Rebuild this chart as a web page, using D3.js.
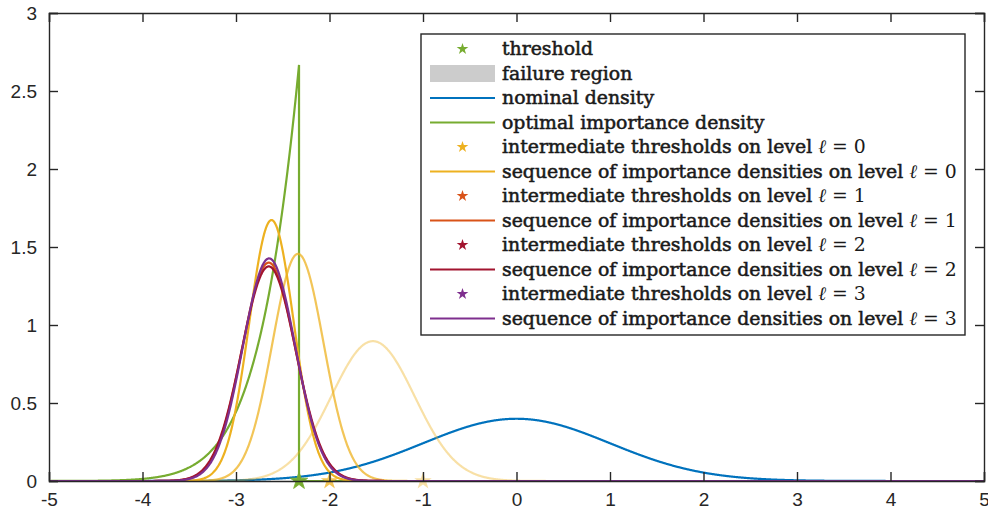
<!DOCTYPE html>
<html>
<head>
<meta charset="utf-8">
<script src="https://cdn.jsdelivr.net/npm/d3@7"></script>
<style>
  body { margin: 0; background: #fff; }
  svg { display: block; }
  .tick text { font-family: 'Liberation Sans', Arial, sans-serif; font-size: 19px; fill: #262626; }
</style>
</head>
<body>
<div id="chart"></div>
<script>
// values
const xTicks = [-5, -4, -3, -2, -1, 0, 1, 2, 3, 4, 5];
const yTicks = [0, 0.5, 1, 1.5, 2, 2.5, 3];

const threshold = -2.326;      // final threshold (Pf = 0.01)
const failureProb = 0.01;

// nominal density N(0,1)
const nominalMean = 0;
const nominalSd = 1;

// level 0: intermediate thresholds and fitted gaussian densities
const level0Thresholds = [-1, -2];
const level0ThresholdOpacity = [0.4, 0.75];
const level0Means = [-1.535, -2.337, -2.62];
const level0Sds = [0.445, 0.274, 0.2385];
const level0Opacity = [0.4, 0.75, 1];

// levels 1..3: final densities
const levelNames = [1, 2, 3];
const levelMeans = [-2.65, -2.65, -2.646];
const levelSds = [0.285, 0.290, 0.2796];

const COLORS = {
  blue: '#0072BD',
  orange: '#D95319',
  yellow: '#EDB120',
  purple: '#7E2F8E',
  green: '#77AC30',
  red: '#A2142F'
};
const levelColors = [COLORS.orange, COLORS.red, COLORS.purple];

const legendLabels = [
  'threshold',
  'failure region',
  'nominal density',
  'optimal importance density',
  'intermediate thresholds on level ',
  'sequence of importance densities on level ',
  'intermediate thresholds on level ',
  'sequence of importance densities on level ',
  'intermediate thresholds on level ',
  'sequence of importance densities on level ',
  'intermediate thresholds on level ',
  'sequence of importance densities on level '
];

const width = 988;
const height = 515;
const margin = { top: 13, right: 4, bottom: 34, left: 49 };

const svg = d3.select('#chart')
  .append('svg')
  .attr('width', width)
  .attr('height', height);

const x = d3.scaleLinear().domain([-5, 5]).range([margin.left, width - margin.right]);
const y = d3.scaleLinear().domain([0, 3]).range([height - margin.bottom, margin.top]);

function normalPdf(v, mu, sd) {
  const z = (v - mu) / sd;
  return Math.exp(-0.5 * z * z) / (sd * Math.sqrt(2 * Math.PI));
}

const grid = d3.range(-5, 5.0001, 0.005);
const line = d3.line().x(d => x(d[0])).y(d => y(d[1]));

function gaussianPoints(mu, sd) {
  return grid.map(v => [v, normalPdf(v, mu, sd)]);
}

const plot = svg.append('g');

// nominal density
plot.append('path')
  .attr('d', line(gaussianPoints(nominalMean, nominalSd)))
  .attr('fill', 'none')
  .attr('stroke', COLORS.blue)
  .attr('stroke-width', 2.2);

// optimal importance density (truncated nominal)
const optimalPts = grid.filter(v => v <= threshold).map(v => [v, normalPdf(v, 0, 1) / failureProb]);
optimalPts.push([threshold, normalPdf(threshold, 0, 1) / failureProb]);
optimalPts.push([threshold, 0]);
optimalPts.push([5, 0]);
plot.append('path')
  .attr('d', line(optimalPts))
  .attr('fill', 'none')
  .attr('stroke', COLORS.green)
  .attr('stroke-width', 2.2);

function starPath(size) {
  return d3.symbol().type(d3.symbolStar).size(size)();
}

// threshold star
plot.append('path')
  .attr('d', starPath(95))
  .attr('transform', `translate(${x(threshold)},${y(0)})`)
  .attr('fill', COLORS.green)
  .attr('stroke', COLORS.green)
  .attr('stroke-width', 0.8);

// level 0
level0Thresholds.forEach((t, i) => {
  plot.append('path')
    .attr('d', starPath(95))
    .attr('transform', `translate(${x(t)},${y(0)})`)
    .attr('fill', COLORS.yellow)
    .attr('fill-opacity', level0ThresholdOpacity[i])
    .attr('stroke', 'none');
});
level0Means.forEach((mu, i) => {
  plot.append('path')
    .attr('d', line(gaussianPoints(mu, level0Sds[i])))
    .attr('fill', 'none')
    .attr('stroke', COLORS.yellow)
    .attr('stroke-opacity', level0Opacity[i])
    .attr('stroke-width', 2.2);
});

// levels 1..3
levelNames.forEach((lvl, i) => {
  plot.append('path')
    .attr('d', line(gaussianPoints(levelMeans[i], levelSds[i])))
    .attr('fill', 'none')
    .attr('stroke', levelColors[i])
    .attr('stroke-width', 2.2);
});

// axes
const axisColor = '#262626';
const tickLen = 9;
const xAxis = svg.append('g')
  .attr('transform', `translate(0,${y(0)})`)
  .call(d3.axisBottom(x).tickValues(xTicks).tickSize(-tickLen).tickPadding(14).tickFormat(d => String(d)));
const xAxisTop = svg.append('g')
  .attr('transform', `translate(0,${y(3)})`)
  .call(d3.axisTop(x).tickValues(xTicks).tickSize(-tickLen).tickFormat(''));
const yAxis = svg.append('g')
  .attr('transform', `translate(${x(-5)},0)`)
  .call(d3.axisLeft(y).tickValues(yTicks).tickSize(-tickLen).tickPadding(12).tickFormat(d => String(d)));
const yAxisRight = svg.append('g')
  .attr('transform', `translate(${x(5)},0)`)
  .call(d3.axisRight(y).tickValues(yTicks).tickSize(-tickLen).tickFormat(''));

[xAxis, xAxisTop, yAxis, yAxisRight].forEach(a => {
  a.selectAll('.domain').attr('stroke', axisColor).attr('stroke-width', 1.4);
  a.selectAll('.tick line').attr('stroke', axisColor).attr('stroke-width', 1.4);
});
xAxis.selectAll('.tick text').attr('dy', '0.6em');
yAxis.selectAll('.tick text').attr('dy', '0.36em');

// legend
const legend = svg.append('g');
const lgX = 421, lgY = 34, lgW = 544, lgH = 301;
legend.append('rect')
  .attr('x', lgX).attr('y', lgY).attr('width', lgW).attr('height', lgH)
  .attr('fill', '#fff').attr('stroke', axisColor).attr('stroke-width', 1.4);

const rowH = 24.5;
const rowY0 = 49;
const sampleX0 = 430, sampleX1 = 495, textX = 502;

const legendItems = [
  { kind: 'star', color: COLORS.green },
  { kind: 'patch', color: '#cccccc' },
  { kind: 'line', color: COLORS.blue },
  { kind: 'line', color: COLORS.green },
  { kind: 'star', color: COLORS.yellow, level: 0 },
  { kind: 'line', color: COLORS.yellow, level: 0 },
  { kind: 'star', color: COLORS.orange, level: 1 },
  { kind: 'line', color: COLORS.orange, level: 1 },
  { kind: 'star', color: COLORS.red, level: 2 },
  { kind: 'line', color: COLORS.red, level: 2 },
  { kind: 'star', color: COLORS.purple, level: 3 },
  { kind: 'line', color: COLORS.purple, level: 3 }
];

const legendFont = "'DejaVu Serif', 'Liberation Serif', serif";
let fontSize = 17;

const texts = [];
legendItems.forEach((item, i) => {
  const cy = rowY0 + i * rowH;
  if (item.kind === 'star') {
    legend.append('path')
      .attr('d', starPath(42))
      .attr('transform', `translate(${(sampleX0 + sampleX1) / 2},${cy})`)
      .attr('fill', item.color);
  } else if (item.kind === 'patch') {
    legend.append('rect')
      .attr('x', sampleX0).attr('y', cy - 8.5)
      .attr('width', sampleX1 - sampleX0).attr('height', 17)
      .attr('fill', item.color);
  } else {
    legend.append('line')
      .attr('x1', sampleX0).attr('x2', sampleX1)
      .attr('y1', cy).attr('y2', cy)
      .attr('stroke', item.color).attr('stroke-width', 2.2);
  }
  const t = legend.append('text')
    .attr('x', textX).attr('y', cy)
    .attr('dy', '0.33em')
    .style('font-family', legendFont)
    .style('font-size', fontSize + 'px')
    .style('fill', '#1a1a1a')
    .style('stroke', '#1a1a1a')
    .style('stroke-width', 0.55);
  t.append('tspan').text(legendLabels[i]);
  if (item.level !== undefined) {
    t.append('tspan').style('font-style', 'italic').style('stroke-width', 0).text('ℓ');
    t.append('tspan').style('stroke-width', 0).text(' = ' + item.level);
  }
  texts.push(t);
});

// fit the longest label to the width seen in the reference
const targetWidth = 455;
const measured = texts[5].node().getComputedTextLength();
fontSize = fontSize * targetWidth / measured;
texts.forEach(t => t.style('font-size', fontSize + 'px'));
</script>
</body>
</html>
